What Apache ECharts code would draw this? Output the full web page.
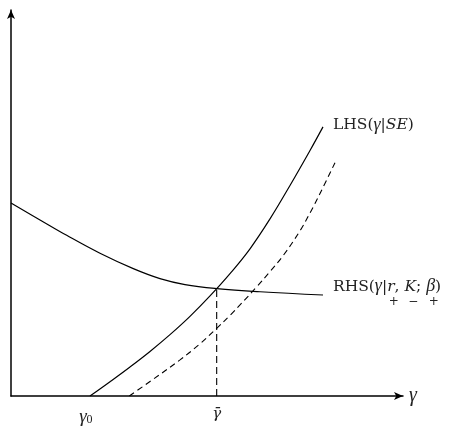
<!DOCTYPE html>
<html><head><meta charset="utf-8">
<script src="https://cdn.jsdelivr.net/npm/echarts@6/dist/echarts.min.js"></script>
<style>html,body{margin:0;padding:0;background:#fff}#c{width:449px;height:426px}</style>
</head><body><div id="c"></div>
<script>
// Data (abstract units 0..100 on both axes)
const lhsPoints = [[20.15,0],[25.26,3.71],[30.36,7.53],[35.46,11.55],[40.56,15.90],[45.66,20.64],[50.77,25.93],[55.87,31.70],[60.97,38.14],[66.07,45.88],[71.17,54.54],[76.28,63.61],[79.59,69.72]];
const lhsShiftedPoints = [[30.18,0],[35.46,3.76],[43.11,9.36],[48.21,13.53],[52.47,17.53],[55.87,20.88],[62.68,28.27],[66.07,32.22],[69.46,36.42],[73.72,42.78],[76.28,47.42],[78.83,52.45],[82.65,60.44]];
const rhsPoints = [[0,50.0],[7.40,45.62],[14.21,41.62],[22.70,36.98],[31.20,32.99],[38.0,30.41],[44.39,28.87],[52.47,27.84],[63.52,27.01],[79.59,26.16]];
const gammaBar = 52.47;
const equilibriumValue = 27.84;
const gamma0 = 19.1;
const tickValues = [gamma0, gammaBar];
const tickLabels = ['{g|γ}{s|0}', '{gb|γ̄}'];
const signs = ['+', '−', '+'];

const FS = 15.5;
const FAM = '"DejaVu Serif"';
const GFAM = '"Liberation Serif"';
const GFS = 18;
const ctx = document.createElement('canvas').getContext('2d');
function tw(text, font) { ctx.font = font; return ctx.measureText(text).width; }
const fUp = FS + 'px ' + FAM, fIt = 'italic ' + FS + 'px ' + FAM, fGk = 'italic ' + GFS + 'px ' + GFAM;

const w1 = tw('RHS(', fUp) + tw('γ', fGk) + tw('|', fUp);
const wr = tw('r', fIt), wc = tw(', ', fUp), wK = tw('K', fIt), ws = tw('; ', fUp), wb = tw('β', fGk);

const textCol = '#222';
const baseRich = {
  t: { fontFamily: FAM, fontSize: FS, color: textCol, lineHeight: 18 },
  i: { fontFamily: FAM, fontSize: FS, fontStyle: 'italic', color: textCol, lineHeight: 18 },
  gk: { fontFamily: GFAM, fontSize: GFS, fontStyle: 'italic', color: textCol, lineHeight: 18 },
  s1: { fontSize: 9, width: w1, lineHeight: 12 },
  s2: { fontSize: 9, width: wc, lineHeight: 12 },
  s3: { fontSize: 9, width: ws, lineHeight: 12 },
  pr: { fontFamily: FAM, fontSize: 12, width: wr, align: 'center', color: textCol, lineHeight: 12 },
  pK: { fontFamily: FAM, fontSize: 12, width: wK, align: 'center', color: textCol, lineHeight: 12 },
  pb: { fontFamily: FAM, fontSize: 12, width: wb, align: 'center', color: textCol, lineHeight: 12 }
};

const chart = echarts.init(document.getElementById('c'), null, { renderer: 'canvas' });
const lineBase = { type: 'line', showSymbol: false, symbol: 'none', silent: true };

chart.setOption({
  animation: false,
  backgroundColor: '#fff',
  grid: { left: 11, right: 46, top: 10, bottom: 28, containLabel: false },
  xAxis: {
    type: 'value', min: 0, max: 100,
    name: 'γ', nameLocation: 'end', nameGap: 6,
    nameTextStyle: { fontFamily: GFAM, fontStyle: 'italic', fontSize: 20, color: textCol, verticalAlign: 'middle' },
    axisLine: { show: true, symbol: ['none', 'arrow'], symbolSize: [6, 9], lineStyle: { color: '#000', width: 1.5 } },
    axisTick: { show: false },
    splitLine: { show: false },
    axisLabel: {
      show: true, customValues: tickValues, margin: 11,
      formatter: v => tickLabels[tickValues.indexOf(v)] || '',
      rich: {
        g: { fontFamily: GFAM, fontStyle: 'italic', fontSize: 19, color: textCol },
        gb: { fontFamily: FAM, fontStyle: 'italic', fontSize: 15, color: textCol },
        s: { fontFamily: GFAM, fontSize: 12, color: textCol, verticalAlign: 'bottom', padding: [5, 0, 0, 0] }
      }
    }
  },
  yAxis: {
    type: 'value', min: 0, max: 100,
    axisLine: { show: true, symbol: ['none', 'arrow'], symbolSize: [6, 9], lineStyle: { color: '#000', width: 1.5 } },
    axisTick: { show: false }, splitLine: { show: false }, axisLabel: { show: false }
  },
  series: [
    Object.assign({}, lineBase, {
      name: 'LHS', data: lhsPoints, smooth: 0.4,
      lineStyle: { color: '#000', width: 1.2 },
      endLabel: {
        show: true, distance: 10, offset: [0, -2],
        formatter: '{t|LHS(}{gk|γ}{t||}{i|SE}{t|)}',
        rich: baseRich
      }
    }),
    Object.assign({}, lineBase, {
      name: 'LHS shifted', data: lhsShiftedPoints, smooth: 0.4,
      lineStyle: { color: '#000', width: 1.1, type: [6, 4] }
    }),
    Object.assign({}, lineBase, {
      name: 'RHS', data: rhsPoints, smooth: 0.4,
      lineStyle: { color: '#000', width: 1.2 },
      endLabel: {
        show: true, distance: 10, offset: [0, -2.5],
        formatter: '{t|RHS(}{gk|γ}{t||}{i|r}{t|, }{i|K}{t|; }{gk|β}{t|)}\n{s1| }{pr|' + signs[0] + '}{s2| }{pK|' + signs[1] + '}{s3| }{pb|' + signs[2] + '}',
        rich: baseRich
      }
    }),
    Object.assign({}, lineBase, {
      name: 'equilibrium', data: [[gammaBar, 0], [gammaBar, equilibriumValue]],
      lineStyle: { color: '#000', width: 1.1, type: [7, 4] }
    })
  ]
});
</script></body></html>
